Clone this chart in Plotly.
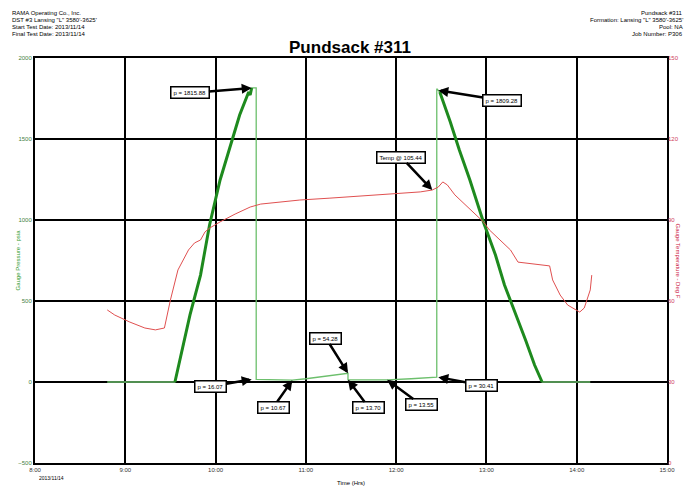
import plotly.graph_objects as go

# ---------------- data ----------------
pressure_time = ["8:48", "9:33", "9:38", "9:43", "9:50", "9:56", "10:03", "10:10", "10:16", "10:22",
                 "10:23", "10:24", "10:27", "10:27", "10:51", "11:00", "11:15", "11:28", "11:28",
                 "11:54", "12:10", "12:27", "12:27", "12:29", "12:36", "12:42", "12:49", "12:58",
                 "13:06", "13:12", "13:19", "13:26", "13:32", "13:37", "14:09"]
pressure_psi = [0, 0, 198, 414, 660, 969, 1247, 1463, 1648, 1790,
                1772, 1815, 1815, 16, 11, 20, 40, 54, 14,
                13.5, 20, 30, 1810, 1790, 1605, 1432, 1247, 988,
                784, 599, 432, 259, 105, 0, 0]

temp_time = ["8:48", "8:53", "9:03", "9:13", "9:20", "9:26", "9:30", "9:35", "9:42", "9:46", "9:50",
             "9:53", "9:56", "10:03", "10:13", "10:23", "10:30", "10:43", "10:56", "11:16", "11:36",
             "11:56", "12:16", "12:24", "12:28", "12:31", "12:34", "12:39", "12:46", "12:52", "12:58",
             "13:02", "13:09", "13:16", "13:21", "13:26", "13:36", "13:42", "13:44", "13:49", "13:54",
             "13:59", "14:02", "14:05", "14:09", "14:10"]
temp_f = [56.7, 54.8, 52.2, 50.0, 49.3, 50.0, 60.4, 71.5, 78.9, 81.5, 82.6,
          85.6, 87.0, 89.3, 92.2, 94.8, 95.9, 96.7, 97.4, 98.1, 98.9,
          99.6, 100.4, 101.1, 102.2, 104.1, 103.0, 99.3, 95.6, 92.6, 89.3,
          86.3, 82.6, 78.9, 74.4, 74.1, 73.3, 73.0, 67.8, 62.2, 58.5,
          56.7, 55.9, 57.4, 64.1, 69.6]

x_tick_hours = [8, 9, 10, 11, 12, 13, 14, 15]
x_tick_labels = ["8:00", "9:00", "10:00", "11:00", "12:00", "13:00", "14:00", "15:00"]
p_ticks = [-500, 0, 500, 1000, 1500, 2000]
t_ticks = [0, 30, 60, 90, 120, 150]

# annotations: (label, time, value, axis, ax, ay)
callouts = [
    ("p = 1815.88", "10:24", 1815, "y", -62, 5),
    ("p = 1809.28", "12:28", 1800, "y", 64, 10),
    ("Temp @ 105.44", "12:24", 101.1, "y2", -31, -33),
    ("p = 54.28", "11:28", 54, "y", -22, -35),
    ("p = 16.07", "10:24", 16, "y", -41, 7),
    ("p = 10.67", "10:51", 11, "y", -19, 27),
    ("p = 13.70", "11:28", 14, "y", 21, 28),
    ("p = 13.55", "11:54", 13.5, "y", 34, 25),
    ("p = 30.41", "12:28", 30, "y", 43, 8),
]

header_left = ["RAMA Operating Co., Inc.", "DST #3 Lansing \"L\" 3580'-3625'",
               "Start Test Date: 2013/11/14", "Final Test Date: 2013/11/14"]
header_right = ["Pundsack #311", "Formation: Lansing \"L\" 3580'-3625'",
                "Pool: NA", "Job Number: P306"]


def hours(s):
    h, m = s.split(":")
    return int(h) + int(m) / 60.0


px = [hours(t) for t in pressure_time]
tx = [hours(t) for t in temp_time]

# the page body adds an 8px margin, so the figure is drawn 8px smaller and shifted
OFF = 8
W, H = 694 - OFF, 487 - OFF
L, R, T, B = 35 - OFF, 694 - 667, 58 - OFF, 487 - 463
pw, ph = W - L - R, H - T - B


def pxx(x):  # screen pixel x -> paper fraction
    return (x - OFF - L) / pw


def pxy(y):  # screen pixel y (from top) -> paper fraction
    return (H - (y - OFF) - B) / ph


fig = go.Figure()

fig.add_trace(go.Scatter(x=px, y=pressure_psi, mode="lines",
                         line=dict(color="#6cbf6c", width=1.3), yaxis="y", showlegend=False))
r1 = slice(1, 12)
r2 = slice(23, 34)
for sl in (r1, r2):
    fig.add_trace(go.Scatter(x=px[sl], y=pressure_psi[sl], mode="lines",
                             line=dict(color="#1e8a1e", width=3), yaxis="y", showlegend=False))

fig.add_trace(go.Scatter(x=tx, y=temp_f, mode="lines",
                         line=dict(color="#e05050", width=1), yaxis="y2", showlegend=False))

font_small = dict(size=6, color="black", family="Liberation Sans")
annotations = []
for text, t, v, ax_name, ax, ay in callouts:
    annotations.append(dict(
        x=hours(t), y=v, xref="x", yref=ax_name, text=text, showarrow=True,
        ax=ax, ay=ay, arrowhead=2, arrowsize=0.8, arrowwidth=2.5, arrowcolor="black",
        bordercolor="black", borderwidth=1.5, borderpad=2, bgcolor="white",
        font=font_small))

for i, line in enumerate(header_left):
    annotations.append(dict(x=pxx(10), y=pxy(8 + i * 7), xref="paper", yref="paper",
                            text=line, showarrow=False, xanchor="left", yanchor="top",
                            font=font_small))
for i, line in enumerate(header_right):
    annotations.append(dict(x=pxx(685), y=pxy(8 + i * 7), xref="paper", yref="paper",
                            text=line, showarrow=False, xanchor="right", yanchor="top",
                            font=font_small))

annotations += [
    dict(x=pxx(12), y=0.5, xref="paper", yref="paper", text="Gauge Pressure - psia",
         textangle=-90, showarrow=False, font=dict(size=6, color="#2e9a2e", family="Liberation Sans")),
    dict(x=pxx(683), y=0.5, xref="paper", yref="paper", text="Gauge Temperature - Deg F",
         textangle=90, showarrow=False, font=dict(size=6, color="#cc2244", family="Liberation Sans")),
    dict(x=pxx(351), y=pxy(483), xref="paper", yref="paper", text="Time (Hrs)",
         showarrow=False, yanchor="middle", font=font_small),
    dict(x=pxx(37), y=pxy(478), xref="paper", yref="paper", text="2013/11/14",
         showarrow=False, xanchor="left", yanchor="middle",
         font=dict(size=5, color="black", family="Liberation Sans")),
]

fig.update_layout(
    width=W, height=H,
    margin=dict(l=L, r=R, t=T, b=B, autoexpand=False),
    paper_bgcolor="white", plot_bgcolor="white",
    title=dict(text="<b>Pundsack #311</b>", x=(350 - OFF) / W, xanchor="center",
               y=1 - (47 - OFF) / H, yanchor="middle", yref="container",
               font=dict(size=17, color="black", family="Liberation Sans")),
    xaxis=dict(range=[8, 15], tickvals=x_tick_hours, ticktext=x_tick_labels, automargin=False,
               showgrid=True, gridcolor="black", gridwidth=1.5, zeroline=False,
               showline=True, linecolor="black", linewidth=2, mirror=True,
               ticks="", tickfont=dict(size=6, color="#333333", family="Liberation Sans")),
    yaxis=dict(range=[-500, 2000], tickvals=p_ticks, automargin=False,
               showgrid=True, gridcolor="black", gridwidth=1.5, zeroline=False,
               showline=True, linecolor="black", linewidth=2, mirror=True,
               ticks="", tickfont=dict(size=6, color="#3f7f3f", family="Liberation Sans")),
    yaxis2=dict(range=[0, 150], tickvals=t_ticks, overlaying="y", side="right", automargin=False,
                showgrid=False, zeroline=False, ticks="",
                tickfont=dict(size=6, color="#d04060", family="Liberation Sans")),
    annotations=annotations,
    showlegend=False,
)

fig.write_html("out.html")
